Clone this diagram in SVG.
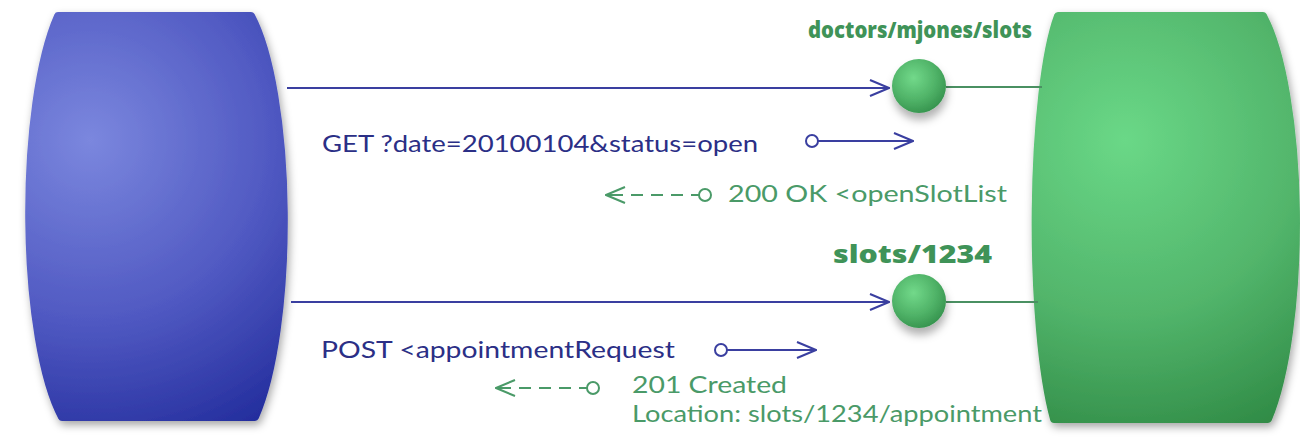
<svg xmlns="http://www.w3.org/2000/svg" width="1300" height="438" viewBox="0 0 1300 438">
<style>
.blueTxt{font-family:Lato,"Open Sans","Liberation Sans",sans-serif;font-size:23px;fill:#2b2f86}
.greenTxt{font-family:Lato,"Open Sans","Liberation Sans",sans-serif;font-size:23px;fill:#4a9a68}
.title{font-family:"Open Sans",Lato,"Liberation Sans",sans-serif;font-size:22px;font-weight:800;fill:#3f9358}
.bline{stroke:#3a3fa0;stroke-width:2;fill:none}
.gline{stroke:#4a9062;stroke-width:2;fill:none}
.gdash{stroke:#4a9a68;stroke-width:2;fill:none;stroke-dasharray:8 8 12 8 12 8 12 8 40}
.bdot{fill:#fff;stroke:#3a3fa0;stroke-width:2}
.gdot{fill:#fff;stroke:#4a9a68;stroke-width:2}
</style>
<defs>
<radialGradient id="gBlue" cx="90" cy="140" r="330" gradientUnits="userSpaceOnUse">
<stop offset="0" stop-color="#7b87de"/>
<stop offset="0.55" stop-color="#5059c2"/>
<stop offset="1" stop-color="#222c9c"/>
</radialGradient>
<radialGradient id="gGreen" cx="1125" cy="140" r="320" gradientUnits="userSpaceOnUse">
<stop offset="0" stop-color="#6ad887"/>
<stop offset="0.55" stop-color="#52b56b"/>
<stop offset="1" stop-color="#2f8a45"/>
</radialGradient>
<radialGradient id="gBall" cx="0.4" cy="0.35" r="0.7">
<stop offset="0" stop-color="#72d98a"/>
<stop offset="0.6" stop-color="#4fb267"/>
<stop offset="1" stop-color="#34914c"/>
</radialGradient>
<filter id="shadow" x="-20%" y="-20%" width="140%" height="140%">
<feDropShadow dx="2" dy="4" stdDeviation="4" flood-color="#000" flood-opacity="0.35"/>
</filter>
<filter id="ballShadow" x="-50%" y="-50%" width="200%" height="200%">
<feDropShadow dx="1" dy="7" stdDeviation="4" flood-color="#000" flood-opacity="0.3"/>
</filter>
<marker id="arrB" viewBox="0 0 22 18" refX="21" refY="9" markerWidth="22" markerHeight="18" markerUnits="userSpaceOnUse" orient="auto">
<path d="M2,1 L21,9 L2,17" fill="none" stroke="#3a3fa0" stroke-width="2"/>
</marker>
<marker id="arrG" viewBox="0 0 22 18" refX="21" refY="9" markerWidth="22" markerHeight="18" markerUnits="userSpaceOnUse" orient="auto">
<path d="M2,1 L21,9 L2,17" fill="none" stroke="#4a9a68" stroke-width="2"/>
</marker>
</defs>
<rect width="1300" height="438" fill="#ffffff"/>

<g id="client" filter="url(#shadow)">
<path d="M58 16 H251 A57 226 0 0 1 255 417 H62 A57 226 0 0 1 58 16 Z" fill="url(#gBlue)" stroke="url(#gBlue)" stroke-width="8" stroke-linejoin="round"/>
</g>

<g id="server" filter="url(#shadow)">
<path d="M1058 16 H1263 A57 228 0 0 1 1268 419 H1054 A38 228 0 0 1 1058 16 Z" fill="url(#gGreen)" stroke="url(#gGreen)" stroke-width="8" stroke-linejoin="round"/>
</g>

<g id="connectors">
<line class="bline" x1="287" y1="88" x2="889" y2="88" marker-end="url(#arrB)"/>
<line class="bline" x1="291" y1="302" x2="889" y2="302" marker-end="url(#arrB)"/>
<line class="gline" x1="946" y1="87" x2="1042" y2="87"/>
<line class="gline" x1="946" y1="302" x2="1038" y2="302"/>
</g>

<g id="resource-slots">
<circle cx="919" cy="86" r="27" fill="url(#gBall)" filter="url(#ballShadow)"/>
<text class="title" x="808" y="38" textLength="224" lengthAdjust="spacingAndGlyphs">doctors/mjones/slots</text>
</g>

<g id="resource-slot1234">
<circle cx="919" cy="301" r="27" fill="url(#gBall)" filter="url(#ballShadow)"/>
<text class="title" x="833" y="263" textLength="159" lengthAdjust="spacingAndGlyphs" style="font-size:24px">slots/1234</text>
</g>

<g id="get-request">
<text class="blueTxt" x="322" y="152" textLength="436" lengthAdjust="spacingAndGlyphs">GET ?date=20100104&amp;status=open</text>
<line class="bline" x1="818" y1="141" x2="913" y2="141" marker-end="url(#arrB)"/>
<circle class="bdot" cx="812" cy="141" r="6"/>
</g>

<g id="get-response">
<line class="gdash" x1="699" y1="195" x2="606" y2="195" marker-end="url(#arrG)"/>
<circle class="gdot" cx="705" cy="195" r="6"/>
<text class="greenTxt" x="728" y="202" textLength="279" lengthAdjust="spacingAndGlyphs">200 OK &lt;openSlotList</text>
</g>

<g id="post-request">
<text class="blueTxt" x="321" y="358" textLength="354" lengthAdjust="spacingAndGlyphs">POST &lt;appointmentRequest</text>
<line class="bline" x1="727" y1="350" x2="816" y2="350" marker-end="url(#arrB)"/>
<circle class="bdot" cx="721" cy="350" r="6"/>
</g>

<g id="post-response">
<line class="gdash" x1="587" y1="388" x2="496" y2="388" marker-end="url(#arrG)"/>
<circle class="gdot" cx="593" cy="388" r="6"/>
<text class="greenTxt" x="632" y="393" textLength="155" lengthAdjust="spacingAndGlyphs">201 Created</text>
<text class="greenTxt" x="632" y="422" textLength="410" lengthAdjust="spacingAndGlyphs">Location: slots/1234/appointment</text>
</g>
</svg>
